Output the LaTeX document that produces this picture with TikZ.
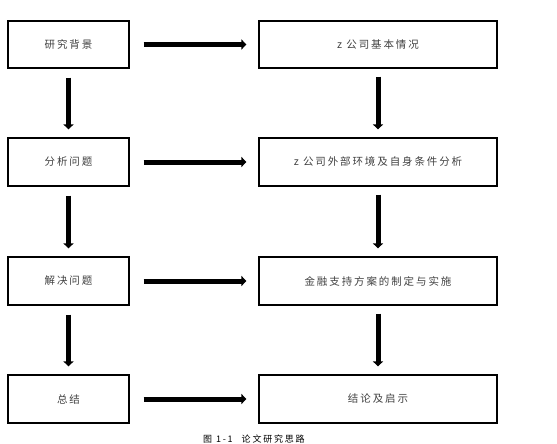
\documentclass[tikz,border=0pt]{standalone}
\usepackage{fontspec}
\newfontfamily\cjk[LetterSpace=18]{Noto Sans CJK SC}
\newfontfamily\cjkcap[LetterSpace=20]{Noto Sans CJK SC}
\usetikzlibrary{arrows.meta}
\begin{document}
\begin{tikzpicture}[x=1pt,y=-1pt,
  box/.style={draw=black,line width=1.2pt,inner sep=0pt,font=\cjk\fontsize{10.5}{12}\selectfont,text=black!75},
  flow/.style={line width=5pt,-{Triangle[length=5pt,width=10pt]}},
  every node/.style={anchor=center}]
\useasboundingbox (0,0) rectangle (557,444);
\node[box,minimum width=121pt,minimum height=47pt] (l1) at (68.5,44.5) {研究背景};
\node[box,minimum width=121pt,minimum height=48pt] (l2) at (68.5,162) {分析问题};
\node[box,minimum width=121pt,minimum height=48pt] (l3) at (68.5,281) {解决问题};
\node[box,minimum width=121pt,minimum height=48pt] (l4) at (68.5,399) {总结};
\node[box,minimum width=238pt,minimum height=47pt] (r1) at (378,44.5) {z 公司基本情况};
\node[box,minimum width=238pt,minimum height=48pt] (r2) at (378,162) {z 公司外部环境及自身条件分析};
\node[box,minimum width=238pt,minimum height=48pt] (r3) at (378,281) {金融支持方案的制定与实施};
\node[box,minimum width=238pt,minimum height=48pt] (r4) at (378,399) {结论及启示};
\foreach \i in {1,2,3,4}{
  \draw[flow] ([xshift=14pt]l\i.east) -- ([xshift=-12pt]r\i.west);
}
\foreach \a/\b in {1/2,2/3,3/4}{
  \draw[flow] ([yshift=-9pt]l\a.south) -- ([yshift=8pt]l\b.north);
  \draw[flow] ([yshift=-8pt]r\a.south) -- ([yshift=8pt]r\b.north);
}
\node[font=\cjkcap\fontsize{9}{10}\selectfont,anchor=south west,inner sep=0pt] (cap) at (203,443.5) {图 1-1\quad 论文研究思路};
\end{tikzpicture}
\end{document}
